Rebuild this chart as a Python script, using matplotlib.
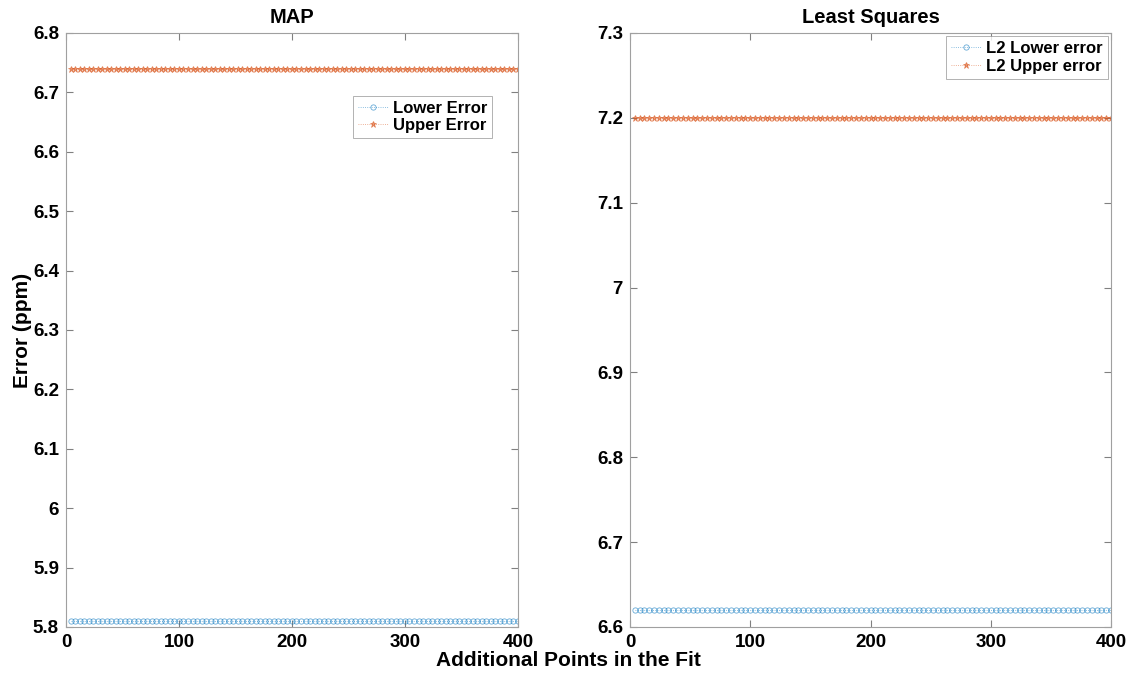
import matplotlib.pyplot as plt
import numpy as np
from matplotlib.ticker import FuncFormatter

plt.rcParams['font.family'] = ['Liberation Sans', 'DejaVu Sans']
plt.rcParams['font.weight'] = 'bold'

# data: every run of the fit gives the same error bounds
points = list(range(4, 401, 4))
map_lower = [5.81] * len(points)
map_upper = [6.74] * len(points)
ls_lower = [6.62] * len(points)
ls_upper = [7.20] * len(points)

blue = (0.0, 0.447, 0.741)
orange = (0.85, 0.325, 0.098)

fig = plt.figure(figsize=(11.26, 6.79), dpi=100)
ax1 = fig.add_axes([0.0586, 0.0766, 0.4014, 0.8748])
ax2 = fig.add_axes([0.5595, 0.0766, 0.4272, 0.8748])


def style(ax):
    for s in ax.spines.values():
        s.set_color('#a0a0a0')
        s.set_linewidth(0.8)
    ax.tick_params(direction='in', top=True, right=True, length=5,
                   color='#808080', labelsize=13.5, pad=5)
    for lab in ax.get_xticklabels() + ax.get_yticklabels():
        lab.set_fontweight('bold')
    ax.xaxis.set_major_formatter(FuncFormatter(lambda v, p: '%g' % v))
    ax.yaxis.set_major_formatter(FuncFormatter(lambda v, p: '%g' % round(v, 2)))


def legend(ax, anchor):
    leg = ax.legend(loc='upper right', bbox_to_anchor=anchor,
                    fontsize=12, frameon=True, fancybox=False,
                    edgecolor='#909090', handlelength=1.8, borderpad=0.3,
                    labelspacing=0.15, handletextpad=0.3, borderaxespad=0.2)
    leg.get_frame().set_linewidth(0.6)
    for t in leg.get_texts():
        t.set_fontweight('bold')


ax1.plot(points, map_lower, ':', color=blue, lw=0.6, marker='o', ms=3.8,
         mfc='none', mew=0.6, alpha=0.6, label='Lower Error')
ax1.plot(points, map_upper, ':', color=orange, lw=0.6, marker='*', ms=4.5,
         mew=0.6, alpha=0.6, label='Upper Error')
ax1.set_xlim(0, 400)
ax1.set_ylim(5.8, 6.8)
ax1.set_xticks([0, 100, 200, 300, 400])
ax1.set_yticks(np.arange(5.8, 6.81, 0.1))
ax1.set_title('MAP', fontsize=14.5, fontweight='bold', pad=7)
ax1.set_ylabel('Error (ppm)', fontsize=15, fontweight='bold', labelpad=1)
style(ax1)
legend(ax1, (0.95, 0.9))

ax2.plot(points, ls_lower, ':', color=blue, lw=0.6, marker='o', ms=3.8,
         mfc='none', mew=0.6, alpha=0.6, label='L2 Lower error')
ax2.plot(points, ls_upper, ':', color=orange, lw=0.6, marker='*', ms=4.5,
         mew=0.6, alpha=0.6, label='L2 Upper error')
ax2.set_xlim(0, 400)
ax2.set_ylim(6.6, 7.3)
ax2.set_xticks([0, 100, 200, 300, 400])
ax2.set_yticks(np.arange(6.6, 7.31, 0.1))
ax2.set_title('Least Squares', fontsize=14.5, fontweight='bold', pad=7)
style(ax2)
legend(ax2, (1.0, 1.0))

fig.text(0.505, 0.027, 'Additional Points in the Fit', ha='center',
         va='center', fontsize=15, fontweight='bold')

fig.savefig('out.png', dpi=100)
